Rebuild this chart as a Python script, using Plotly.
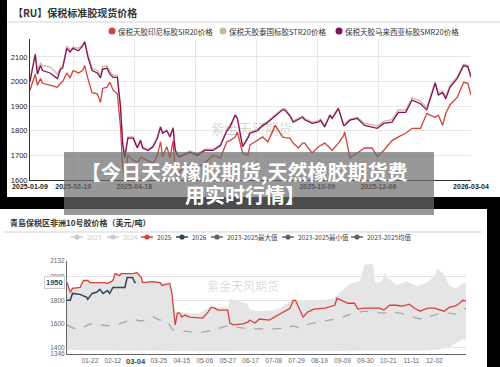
import plotly.graph_objects as go

W, H = 500, 367

# ---------------- top chart data ----------------
top_dates = [
    "2025-01-09", "2025-01-14", "2025-01-16", "2025-01-19", "2025-01-21", "2025-01-28",
    "2025-02-04", "2025-02-07", "2025-02-09", "2025-02-13", "2025-02-16", "2025-02-19",
    "2025-02-24", "2025-02-28", "2025-03-02", "2025-03-05", "2025-03-09", "2025-03-14",
    "2025-03-17", "2025-03-19", "2025-03-23", "2025-03-26", "2025-03-29", "2025-04-02",
    "2025-04-05", "2025-04-07", "2025-04-09", "2025-04-12", "2025-04-17", "2025-04-21",
    "2025-04-24", "2025-04-26", "2025-05-01", "2025-05-06", "2025-05-10", "2025-05-13",
    "2025-05-15", "2025-05-19", "2025-05-22", "2025-05-25", "2025-05-27", "2025-05-30",
    "2025-06-01", "2025-06-10", "2025-06-17", "2025-06-24", "2025-07-02", "2025-07-09",
    "2025-07-15", "2025-07-18", "2025-07-23", "2025-07-25", "2025-07-30", "2025-08-04",
    "2025-08-06", "2025-08-13", "2025-08-18", "2025-08-23", "2025-08-30", "2025-09-06",
    "2025-09-08", "2025-09-13", "2025-09-16", "2025-09-21", "2025-09-25", "2025-09-27",
    "2025-10-04", "2025-10-10", "2025-10-12", "2025-10-16", "2025-10-21", "2025-10-23",
    "2025-10-29", "2025-11-03", "2025-11-04", "2025-11-09", "2025-11-16", "2025-11-23",
    "2025-11-30", "2025-12-05", "2025-12-11", "2025-12-19", "2025-12-25", "2026-01-01",
    "2026-01-07", "2026-01-15", "2026-01-21", "2026-01-29", "2026-02-01", "2026-02-05",
    "2026-02-08", "2026-02-12", "2026-02-19", "2026-02-25", "2026-03-01", "2026-03-04",
]
smr20 = [
    2000, 2110, 2030, 2065, 2045, 2035, 2012, 2050, 2055, 2135, 2120, 2135,
    2125, 2145, 2160, 2100, 2045, 2035, 2015, 2050, 2055, 2030, 2017, 2017,
    1895, 1750, 1690, 1770, 1770, 1730, 1760, 1730, 1720, 1735, 1770, 1815,
    1790, 1800, 1775, 1810, 1720, 1695, 1695, 1713, 1700, 1720, 1720, 1740,
    1800, 1815, 1863, 1850, 1735, 1770, 1790, 1800, 1820, 1835, 1860, 1885,
    1885, 1860, 1835, 1845, 1855, 1845, 1830, 1835, 1843, 1815, 1863, 1850,
    1890, 1822, 1822, 1843, 1850, 1822, 1815, 1810, 1830, 1835, 1875, 1875,
    1925, 1910, 1885, 1993, 1945, 1955, 1930, 1977, 2013, 2065, 2060, 2017,
]
sir20 = [
    1965, 2030, 1985, 2012, 1993, 1985, 1977, 1993, 2000, 2035, 2015, 2045,
    2035, 2045, 2065, 2012, 1955, 1950, 1915, 1972, 1977, 1997, 1965, 1950,
    1815, 1655, 1600, 1700, 1680, 1672, 1690, 1690, 1680, 1668, 1700, 1755,
    1695, 1735, 1690, 1760, 1628, 1615, 1640, 1660, 1650, 1670, 1700, 1690,
    1755, 1760, 1775, 1795, 1710, 1700, 1742, 1762, 1775, 1755, 1822, 1775,
    1772, 1770, 1750, 1730, 1750, 1750, 1710, 1735, 1740, 1750, 1730, 1720,
    1750, 1780, 1795, 1690, 1710, 1730, 1730, 1695, 1720, 1760, 1775, 1790,
    1810, 1810, 1870, 1855, 1863, 1822, 1870, 1905, 1937, 1997, 1993, 1945,
]
str20 = [
    2010, 2115, 2045, 2075, 2065, 2060, 2030, 2060, 2060, 2145, 2130, 2140,
    2135, 2150, 2165, 2110, 2055, 2045, 2025, 2060, 2065, 2040, 2025, 2025,
    1900, 1755, 1695, 1775, 1775, 1735, 1765, 1735, 1725, 1740, 1775, 1820,
    1795, 1805, 1780, 1815, 1725, 1700, 1700, 1718, 1705, 1725, 1725, 1745,
    1805, 1820, 1868, 1855, 1740, 1775, 1795, 1805, 1825, 1840, 1865, 1890,
    1890, 1865, 1840, 1850, 1860, 1850, 1835, 1840, 1848, 1820, 1868, 1855,
    1895, 1827, 1827, 1848, 1855, 1830, 1825, 1820, 1838, 1845, 1885, 1885,
    1935, 1920, 1895, 2000, 1952, 1962, 1937, 1985, 2020, 2070, 2065, 2025,
]
top_names = ["保税天胶印尼标胶SIR20价格", "保税天胶泰国标胶STR20价格", "保税天胶马来西亚标胶SMR20价格"]
top_colors = ["#d4433b", "#c9b89c", "#8a0e5e"]
top_xticks = ["2025-01-09", "2025-02-19", "2025-04-18", "2025-06-15", "2025-08-12",
              "2025-10-09", "2025-12-06", "2026-03-04"]
top_xtick_hidden = ["2025-06-15", "2025-08-12"]
top_yticks = [1600, 1700, 1800, 1900, 2000, 2100]
top_title = "【RU】保税标准胶现货价格"

# ---------------- bottom chart data (month-day axis, leap-year calendar) ----------------
y2025_dates = [
    "2024-01-01", "2024-01-04", "2024-01-06", "2024-01-13", "2024-01-16", "2024-01-20",
    "2024-01-22", "2024-02-05", "2024-02-07", "2024-02-12", "2024-02-14", "2024-02-18",
    "2024-02-20", "2024-03-01", "2024-03-05", "2024-03-09", "2024-03-10", "2024-03-19",
    "2024-03-26", "2024-03-28", "2024-04-04", "2024-04-06", "2024-04-08", "2024-04-09",
    "2024-04-11", "2024-04-13", "2024-04-15", "2024-04-18", "2024-04-22", "2024-05-01",
    "2024-05-04", "2024-05-09", "2024-05-12", "2024-05-15", "2024-05-18", "2024-05-27",
    "2024-05-29", "2024-06-01", "2024-06-10", "2024-06-15", "2024-06-16", "2024-06-21",
    "2024-06-25", "2024-07-04", "2024-07-09", "2024-07-15", "2024-07-23", "2024-07-26",
    "2024-07-28", "2024-08-01", "2024-08-04", "2024-08-08", "2024-08-14", "2024-08-24",
    "2024-08-28", "2024-09-02", "2024-09-04", "2024-09-08", "2024-09-14", "2024-09-20",
    "2024-09-23", "2024-09-29", "2024-10-13", "2024-10-17", "2024-10-22", "2024-10-28",
    "2024-11-03", "2024-11-09", "2024-11-14", "2024-11-19", "2024-11-26", "2024-12-02",
    "2024-12-07", "2024-12-11", "2024-12-16", "2024-12-21", "2024-12-25", "2024-12-28",
    "2024-12-31",
]
y2025_vals = [
    1950, 1867, 1900, 1908, 1967, 1967,
    1950, 1950, 1942, 1967, 2025, 2008,
    2025, 2025, 2033, 1992, 1950, 1958,
    1950, 1925, 1942, 1858, 1675, 1592,
    1692, 1692, 1658, 1675, 1658, 1650,
    1650, 1700, 1742, 1733, 1717, 1717,
    1608, 1592, 1600, 1617, 1633, 1608,
    1642, 1633, 1658, 1692, 1733, 1800,
    1800, 1717, 1658, 1700, 1725, 1733,
    1742, 1758, 1817, 1800, 1775, 1775,
    1725, 1733, 1733, 1717, 1758, 1758,
    1750, 1767, 1733, 1708, 1733, 1733,
    1717, 1708, 1742, 1750, 1775, 1800,
    1795,
]
y2026_dates = [
    "2024-01-01", "2024-01-04", "2024-01-06", "2024-01-13", "2024-01-19", "2024-01-20",
    "2024-01-24", "2024-01-28", "2024-01-31", "2024-02-03", "2024-02-07", "2024-02-09",
    "2024-02-12", "2024-02-23", "2024-02-25", "2024-03-01", "2024-03-03", "2024-03-04",
]
y2026_vals = [
    1800, 1800, 1858, 1850, 1825, 1808,
    1858, 1867, 1892, 1858, 1883, 1858,
    1908, 1908, 1992, 1992, 1950, 1950,
]
mean_dates = [
    "2024-01-01", "2024-01-06", "2024-01-13", "2024-01-19", "2024-01-22", "2024-01-31",
    "2024-02-09", "2024-02-18", "2024-02-25", "2024-03-01", "2024-03-08", "2024-03-15",
    "2024-03-20", "2024-03-26", "2024-04-01", "2024-04-07", "2024-04-13", "2024-04-22",
    "2024-05-01", "2024-05-11", "2024-05-20", "2024-05-26", "2024-06-03", "2024-06-12",
    "2024-06-16", "2024-06-25", "2024-07-09", "2024-07-19", "2024-07-26", "2024-08-01",
    "2024-08-10", "2024-08-19", "2024-08-28", "2024-09-07", "2024-09-14", "2024-09-20",
    "2024-09-29", "2024-10-07", "2024-10-12", "2024-10-17", "2024-10-24", "2024-11-01",
    "2024-11-09", "2024-11-19", "2024-11-26", "2024-12-05", "2024-12-15", "2024-12-21",
    "2024-12-27", "2024-12-31",
]
mean_vals = [
    1592, 1567, 1558, 1583, 1600, 1592,
    1583, 1600, 1625, 1642, 1625, 1633,
    1658, 1633, 1625, 1550, 1542, 1533,
    1525, 1542, 1567, 1583, 1575, 1567,
    1558, 1558, 1558, 1567, 1583, 1567,
    1600, 1617, 1633, 1650, 1675, 1692,
    1708, 1700, 1692, 1692, 1700, 1692,
    1667, 1642, 1658, 1683, 1692, 1683,
    1717, 1733,
]
band_dates = [
    "2024-01-01", "2024-01-04", "2024-01-06", "2024-01-13", "2024-01-16", "2024-01-22",
    "2024-02-05", "2024-02-12", "2024-02-14", "2024-02-20", "2024-03-01", "2024-03-05",
    "2024-03-10", "2024-03-19", "2024-03-26", "2024-04-04", "2024-04-07", "2024-04-09",
    "2024-04-15", "2024-04-22", "2024-05-01", "2024-05-12", "2024-05-27", "2024-05-29",
    "2024-06-03", "2024-06-08", "2024-06-14", "2024-06-16", "2024-06-25", "2024-07-09",
    "2024-07-15", "2024-07-26", "2024-08-04", "2024-08-19", "2024-08-31", "2024-09-16",
    "2024-09-25", "2024-09-29", "2024-10-07", "2024-10-09", "2024-10-15", "2024-10-18",
    "2024-10-20", "2024-10-29", "2024-11-07", "2024-11-16", "2024-11-25", "2024-12-02",
    "2024-12-05", "2024-12-10", "2024-12-16", "2024-12-22", "2024-12-27", "2024-12-31",
]
band_max = [
    1955, 1875, 1905, 1915, 1970, 1955,
    1955, 1970, 2030, 2030, 2030, 2038,
    1955, 1962, 1955, 1945, 1780, 1700,
    1700, 1690, 1690, 1745, 1740, 1817,
    1800, 1790, 1770, 1720, 1710, 1715,
    1740, 1810, 1790, 1800, 1810, 1940,
    1960, 2100, 2108, 1950, 1960, 2033,
    1990, 1930, 1960, 1920, 1950, 2000,
    2067, 2030, 1920, 1900, 1940, 1950,
]
band_min = [
    1380, 1380, 1378, 1378, 1377, 1377,
    1376, 1376, 1376, 1375, 1375, 1375,
    1375, 1374, 1374, 1373, 1372, 1372,
    1372, 1371, 1370, 1370, 1370, 1370,
    1370, 1370, 1370, 1370, 1370, 1370,
    1370, 1371, 1371, 1372, 1372, 1373,
    1373, 1373, 1374, 1374, 1374, 1375,
    1375, 1375, 1375, 1376, 1378, 1380,
    1383, 1390, 1400, 1440, 1467, 1470,
]
bottom_xticks = ["2024-01-22", "2024-02-12", "2024-03-25", "2024-04-15",
                 "2024-05-06", "2024-05-27", "2024-06-17", "2024-07-08", "2024-07-29",
                 "2024-08-19", "2024-09-09", "2024-09-30", "2024-10-21", "2024-11-11",
                 "2024-12-02"]
bottom_yticks = [1346, 1400, 1600, 1800, 2000, 2132]
bottom_names = ["2023", "2024", "2025", "2026", "2023-2025最大值", "2023-2025最小值", "2023-2025均值"]
bottom_colors = ["#cccccc", "#cccccc", "#d4433b", "#2f4554", "#5f6368", "#5f6368", "#5f6368"]
bottom_title = "青島保税区非洲10号胶价格（美元/吨）"
banner_lines = ["【今日天然橡胶期货,天然橡胶期货费", "用实时行情】"]
watermark = "紫金天风期货"

LAT = "Liberation Sans, Noto Sans CJK SC, sans-serif"
CJK = "Noto Sans CJK SC, Liberation Sans, sans-serif"


def X(p):
    return p / W


def Y(p):
    return 1 - p / H


fig = go.Figure()

# top chart series
for vals, name, col in zip([sir20, str20, smr20], top_names, top_colors):
    fig.add_trace(go.Scatter(x=top_dates, y=vals, name=name, mode="lines",
                             line=dict(color=col, width=1.3), xaxis="x", yaxis="y",
                             showlegend=False))

# bottom chart band / lines
fig.add_trace(go.Scatter(x=band_dates, y=band_min, mode="lines", line=dict(width=0),
                         xaxis="x2", yaxis="y2", showlegend=False, hoverinfo="skip"))
fig.add_trace(go.Scatter(x=band_dates, y=band_max, mode="lines", line=dict(width=0),
                         fill="tonexty", fillcolor="#e5e5e5",
                         xaxis="x2", yaxis="y2", showlegend=False))
fig.add_trace(go.Scatter(x=mean_dates, y=mean_vals, mode="lines",
                         line=dict(color="#a8a8a8", width=1.3, dash="dash"),
                         xaxis="x2", yaxis="y2", showlegend=False))
fig.add_trace(go.Scatter(x=y2025_dates, y=y2025_vals, mode="lines",
                         line=dict(color="#d4433b", width=1.3),
                         xaxis="x2", yaxis="y2", showlegend=False))
fig.add_trace(go.Scatter(x=y2026_dates, y=y2026_vals, mode="lines",
                         line=dict(color="#2f4554", width=1.5),
                         xaxis="x2", yaxis="y2", showlegend=False))

shapes = []
# panels
shapes.append(dict(type="rect", xref="paper", yref="paper", x0=X(7), x1=1, y0=Y(197), y1=1,
                   fillcolor="white", line=dict(width=0), layer="below"))
shapes.append(dict(type="rect", xref="paper", yref="paper", x0=0, x1=X(487), y0=0, y1=Y(209),
                   fillcolor="white", line=dict(width=0), layer="below"))
# separators
shapes.append(dict(type="line", xref="paper", yref="paper", x0=X(7), x1=1, y0=Y(22), y1=Y(22),
                   line=dict(color="#e2e2e2", width=1.5), layer="below"))
shapes.append(dict(type="line", xref="paper", yref="paper", x0=X(4), x1=X(482), y0=Y(232), y1=Y(232),
                   line=dict(color="#e2e2e2", width=1.5), layer="below"))

annotations = []
# titles
annotations.append(dict(text="<b>" + top_title + "</b>", x=X(11), y=Y(13), xref="paper", yref="paper",
                        xanchor="left", yanchor="middle", showarrow=False,
                        font=dict(family=CJK, size=10, color="#333")))
annotations.append(dict(text="<b>" + bottom_title + "</b>", x=X(8), y=Y(222), xref="paper", yref="paper",
                        xanchor="left", yanchor="middle", showarrow=False,
                        font=dict(family=CJK, size=8, color="#333")))

# top legend (dot + text)
top_leg_x = [112, 223, 339]
for cx, name, col in zip(top_leg_x, top_names, top_colors):
    r = 3.5
    shapes.append(dict(type="circle", xref="paper", yref="paper", x0=X(cx - r), x1=X(cx + r),
                       y0=Y(31 + r), y1=Y(31 - r), fillcolor=col, line=dict(width=0)))
    annotations.append(dict(text=name, x=X(cx + 4), y=Y(31), xref="paper", yref="paper",
                            xanchor="left", yanchor="middle", showarrow=False,
                            font=dict(family=CJK, size=7.5, color="#333")))

# bottom legend (line-dot-line + text)
bot_leg_x = [77, 113, 147, 182, 217, 288, 357]
for cx, name, col in zip(bot_leg_x, bottom_names, bottom_colors):
    shapes.append(dict(type="line", xref="paper", yref="paper", x0=X(cx - 6), x1=X(cx + 6),
                       y0=Y(237), y1=Y(237), line=dict(color=col, width=1.5)))
    r = 2.6
    shapes.append(dict(type="circle", xref="paper", yref="paper", x0=X(cx - r), x1=X(cx + r),
                       y0=Y(237 + r), y1=Y(237 - r), fillcolor=col, line=dict(width=0)))
    tcol = "#cccccc" if col == "#cccccc" else "#444"
    annotations.append(dict(text=name, x=X(cx + 8), y=Y(237), xref="paper", yref="paper",
                            xanchor="left", yanchor="middle", showarrow=False,
                            font=dict(family=CJK, size=6.5, color=tcol)))

# watermarks
annotations.append(dict(text=watermark, x=X(251), y=Y(128), xref="paper", yref="paper",
                        xanchor="center", yanchor="middle", showarrow=False,
                        font=dict(family=CJK, size=13.5, color="rgba(0,0,0,0.16)")))
annotations.append(dict(text=watermark, x=X(243), y=Y(285), xref="paper", yref="paper",
                        xanchor="center", yanchor="middle", showarrow=False,
                        font=dict(family=CJK, size=12, color="rgba(0,0,0,0.16)")))

# current-value tags on bottom chart
annotations.append(dict(text="<b>%d</b>" % y2026_vals[-1], x=X(65), y=y2026_vals[-1],
                        xref="paper", yref="y2", xanchor="right", yanchor="middle",
                        showarrow=False, bgcolor="white", bordercolor="#cfcfcf", borderwidth=1,
                        borderpad=1, font=dict(family=LAT, size=7.5, color="#2f4554")))
annotations.append(dict(text="<b>%s</b>" % y2026_dates[-1][5:], x=y2026_dates[-1], y=Y(361),
                        xref="x2", yref="paper", xanchor="center", yanchor="middle",
                        showarrow=False, borderpad=0,
                        font=dict(family=LAT, size=7.5, color="#2f4554")))

# banner
shapes.append(dict(type="rect", xref="paper", yref="paper", x0=X(64), x1=X(434), y0=Y(215), y1=Y(152),
                   fillcolor="rgba(108,108,108,0.7)", line=dict(width=0), layer="above"))
annotations.append(dict(text="<b>" + banner_lines[0] + "</b>", x=X(244), y=Y(171), xref="paper", yref="paper",
                        xanchor="center", yanchor="middle", showarrow=False,
                        font=dict(family=CJK, size=20, color="white")))
annotations.append(dict(text="<b>" + banner_lines[1] + "</b>", x=X(245), y=Y(194), xref="paper", yref="paper",
                        xanchor="center", yanchor="middle", showarrow=False,
                        font=dict(family=CJK, size=20, color="white")))

fig.update_layout(
    width=W, height=H, margin=dict(l=0, r=0, t=0, b=0, pad=0, autoexpand=False),
    paper_bgcolor="black", plot_bgcolor="rgba(0,0,0,0)",
    showlegend=False, shapes=shapes, annotations=annotations,
    xaxis=dict(type="date", domain=[X(30), X(471)], range=["2025-01-09", "2026-03-04"],
               anchor="y", tickvals=top_xticks,
               ticktext=["" if d in top_xtick_hidden else d for d in top_xticks],
               tickfont=dict(family=LAT, size=7, color="#222", weight="bold"),
               showgrid=True, gridcolor="#e8e8e8", gridwidth=1, automargin=False,
               showline=True, linecolor="#333", linewidth=1, ticks="", zeroline=False),
    yaxis=dict(domain=[Y(180), Y(39)], range=[1600, 2173], anchor="x",
               tickvals=top_yticks, tickfont=dict(family=LAT, size=7.5, color="#222"),
               showgrid=True, gridcolor="#e8e8e8", gridwidth=1, automargin=False,
               showline=True, linecolor="#333", linewidth=1, ticks="", zeroline=False),
    xaxis2=dict(type="date", domain=[X(67), X(466)], range=["2024-01-01", "2024-12-31"],
                anchor="y2", tickvals=bottom_xticks, ticktext=[d[5:] for d in bottom_xticks],
                tickfont=dict(family=LAT, size=6.5, color="#666"), automargin=False,
                showgrid=False, showline=True, linecolor="#666", linewidth=1, ticks="",
                zeroline=False),
    yaxis2=dict(domain=[Y(354), Y(261)], range=[1346, 2132], anchor="x2",
                tickvals=bottom_yticks, tickfont=dict(family=LAT, size=6.5, color="#666"),
                showgrid=True, gridcolor="#e3e3e3", gridwidth=1, automargin=False,
                showline=True, linecolor="#666", linewidth=1, ticks="", zeroline=False),
)

fig.write_html("out.html", config={"displayModeBar": False, "staticPlot": True},
               post_script="document.body.style.margin='0';document.body.style.padding='0';"
                           "document.body.style.background='black';")
